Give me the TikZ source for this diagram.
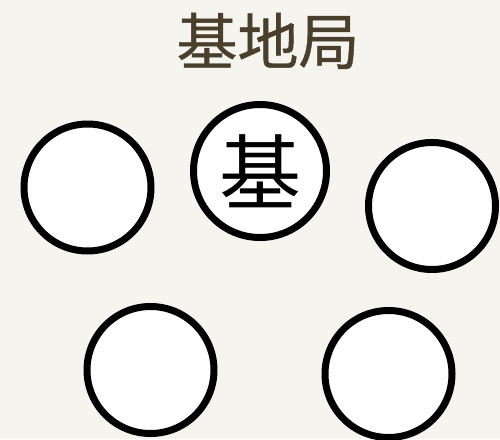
\documentclass[tikz,border=0pt]{standalone}
\usepackage{fontspec}
\newfontfamily\cjk{Noto Sans CJK JP}
\newfontfamily\cjkbold[FakeBold=0.7]{Noto Sans CJK JP}
\definecolor{bg}{HTML}{F5F4EF}
\definecolor{titlec}{HTML}{4A3F2C}
\begin{document}
\begin{tikzpicture}[x=1pt,y=-1pt,
  station/.style={circle,draw=black,fill=white,line width=7pt,inner sep=0pt,minimum size=127pt}]
\fill[bg] (0,0) rectangle (500,439);
\useasboundingbox (0,0) rectangle (500,439);
\node[text=titlec,font=\cjkbold\fontsize{61}{61}\selectfont] (title) at (268,41) {基地局};
\node[station] (c1) at (87.5,187.5) {};
\node[station,minimum size=133pt,font=\cjk\fontsize{82}{82}\selectfont] (c2) at (260,171) {基};
\node[station] (c3) at (432,206) {};
\node[station] (c4) at (150.5,370) {};
\node[station] (c5) at (388.5,374) {};
\end{tikzpicture}
\end{document}
